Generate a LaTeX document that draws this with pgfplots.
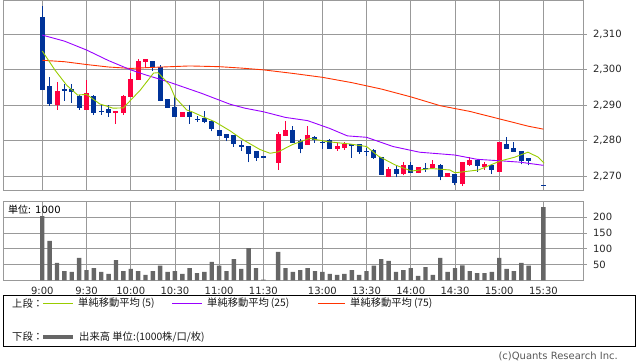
\documentclass[border=0pt]{standalone}
\usepackage{pgfplots}
\pgfplotsset{compat=1.18}
\usepackage{pgfplotstable}
\usepackage{fontspec}
\setmainfont{DejaVu Sans}
\newfontfamily\jp{Noto Sans CJK JP}
\definecolor{upred}{HTML}{FF0040}
\definecolor{dnblue}{HTML}{003399}
\definecolor{maA}{HTML}{99CC00}
\definecolor{maB}{HTML}{9900FF}
\definecolor{maC}{HTML}{FF3300}
\definecolor{gridc}{HTML}{999999}
\definecolor{volc}{HTML}{666666}

% i O H L C
\pgfplotstableread{
i O H L C
2 2289.9 2296.5 2288.7 2294.0
6 2288.7 2297.0 2288.7 2293.4
10 2287.7 2288.4 2284.7 2288.4
11 2287.7 2292.8 2287.2 2292.5
12 2292.3 2299.0 2292.3 2297.3
13 2297.1 2302.9 2297.1 2302.4
14 2302.2 2303.0 2300.3 2303.0
19 2286.7 2288.0 2286.7 2288.0
32 2273.7 2282.4 2271.7 2281.9
33 2281.3 2285.5 2281.3 2283.0
36 2278.8 2284.2 2278.8 2281.6
40 2277.6 2279.4 2277.1 2278.5
41 2277.8 2279.7 2277.4 2279.1
47 2269.7 2272.5 2269.7 2271.9
49 2270.6 2273.9 2270.2 2273.1
51 2270.8 2272.5 2270.8 2272.5
53 2272.3 2274.4 2272.0 2273.5
55 2269.8 2270.9 2269.8 2270.9
57 2267.8 2273.9 2267.3 2273.9
58 2273.2 2275.4 2272.9 2274.4
60 2272.5 2273.9 2271.8 2273.5
62 2271.2 2279.6 2271.2 2279.6
}\upT

\pgfplotstableread{
i O H L C
0 2314.8 2317.9 2294.3 2294.3
1 2295.4 2297.9 2289.8 2290.4
3 2294.5 2295.9 2291.2 2294.2
4 2294.6 2295.9 2290.6 2293.7
5 2292.6 2292.9 2288.7 2289.2
7 2292.5 2292.8 2287.3 2287.8
8 2288.4 2289.9 2287.3 2288.1
9 2288.9 2289.9 2286.7 2287.8
15 2302.4 2302.4 2299.6 2300.6
16 2300.6 2301.2 2291.1 2291.2
17 2291.6 2291.7 2289.2 2289.2
18 2289.4 2292.6 2286.7 2286.7
20 2288.0 2290.1 2284.7 2286.7
21 2286.2 2287.0 2285.3 2285.9
22 2286.3 2288.2 2284.8 2285.2
23 2285.5 2285.7 2282.6 2283.2
24 2283.0 2283.0 2281.4 2281.4
25 2281.8 2281.8 2279.8 2280.7
26 2281.6 2281.6 2278.3 2278.9
27 2278.7 2279.9 2277.1 2278.4
28 2278.5 2278.5 2273.9 2276.3
29 2277.0 2277.0 2274.3 2275.2
30 2275.5 2275.5 2275.1 2275.1
34 2283.0 2284.0 2279.4 2279.4
35 2279.9 2280.5 2276.4 2277.6
37 2280.9 2281.4 2279.4 2280.1
38 2279.6 2280.2 2277.7 2279.3
39 2280.1 2280.4 2277.7 2277.7
42 2279.0 2279.0 2275.2 2278.7
43 2279.0 2279.0 2276.3 2276.8
44 2277.1 2277.9 2275.7 2276.8
45 2277.3 2277.6 2274.9 2275.1
46 2275.4 2275.4 2270.3 2270.3
48 2272.1 2272.7 2269.7 2270.6
50 2273.1 2273.9 2270.8 2270.8
52 2272.3 2273.7 2271.2 2272.0
54 2273.1 2273.5 2268.8 2269.8
56 2270.6 2270.6 2267.4 2267.9
59 2274.5 2274.9 2271.2 2272.9
61 2273.0 2273.0 2270.6 2271.8
63 2279.0 2281.0 2277.7 2277.7
64 2277.9 2279.6 2276.8 2276.8
65 2277.0 2277.0 2273.3 2274.2
66 2275.0 2275.0 2273.0 2274.3
68 2267.6 2267.6 2267.3 2267.3
}\dnT

\pgfplotstableread{
i V
0 203.5
1 124.4
2 54.8
3 29.4
4 26.3
5 70.6
6 32.6
7 38.9
8 26.3
9 20
10 64.2
11 29.4
12 35.8
13 29.4
14 16.8
15 29.4
16 46.2
17 26.3
18 29.4
19 20
20 38.9
21 23.1
22 26.3
23 58
24 46.2
25 29.4
26 67.4
27 35.8
28 102.2
29 38.9
30 2
32 89.6
33 38.9
34 26.3
35 32.6
36 38.9
37 29.4
38 26.3
39 20
40 16.8
41 20
42 32.6
43 16.8
44 29.4
45 46.2
46 67.4
47 61.1
48 26.3
49 32.6
50 38.9
51 13.7
52 42
53 16.8
54 70.6
55 26.3
56 38.9
57 47.3
58 29.4
59 23.1
60 23.1
61 26.3
62 70.6
63 35.8
64 29.4
65 54.8
66 46.2
68 232
}\volT

\pgfplotsset{
  panel/.style={
    scale only axis,
    anchor=south west,
    width=580pt,
    xmin=-5.33, xmax=73.37,
    xtick={0,6,12,18,24,30,38,44,50,56,62,68},
    grid=both,
    major grid style={gridc, line width=0.75pt},
    axis line style={gridc, line width=0.75pt},
    ytick pos=right,
    yticklabel pos=right,
    tick align=outside,
    major tick length=4pt,
    ytick style={gridc, line width=0.75pt},
    xtick style={draw=none},
    /pgf/number format/assume math mode=true,
    ticklabel style={font=\fontsize{10}{12}\selectfont, text=black!85},
    yticklabel style={xshift=2.5pt},
  },
  candle/.style={only marks, mark=*, mark size=0pt, mark options={draw=none, fill=none}, forget plot},
}

\begin{document}
\begin{tikzpicture}
\useasboundingbox (0,0) rectangle (638pt,362pt);

% upper panel
\begin{axis}[panel,
  at={(3pt,171.7pt)}, height=189.8pt,
  ymin=2265.97, ymax=2319.44,
  ytick={2270,2280,2290,2300,2310},
  yticklabel={\pgfmathprintnumber[fixed,1000 sep={,}]{\tick}},
  xticklabels={,,,,,,,,,,,},
]
% wicks
\addplot[candle,
  error bars/.cd, y dir=plus, y explicit, error mark=none,
  error bar style={upred, line width=1pt}]
  table[x=i, y=L, y error expr=\thisrow{H}-\thisrow{L}] {\upT};
\addplot[candle,
  error bars/.cd, y dir=plus, y explicit, error mark=none,
  error bar style={dnblue, line width=1pt}]
  table[x=i, y=L, y error expr=\thisrow{H}-\thisrow{L}] {\dnT};
% bodies
\addplot[candle,
  error bars/.cd, y dir=both, y explicit, error mark=none,
  error bar style={upred, line width=5pt}]
  table[x=i, y expr=(\thisrow{O}+\thisrow{C})/2, y error expr=abs(\thisrow{C}-\thisrow{O})/2] {\upT};
\addplot[candle,
  error bars/.cd, y dir=both, y explicit, error mark=none,
  error bar style={dnblue, line width=5pt}]
  table[x=i, y expr=(\thisrow{O}+\thisrow{C})/2, y error expr=abs(\thisrow{C}-\thisrow{O})/2] {\dnT};
% MA75
\addplot[maC, line width=0.9pt] coordinates {
(0,2302.6) (3,2302.2) (6,2301.4) (9,2300.7) (12,2300.3) (15,2300.6) (20,2301.0)
(24,2300.8) (27,2300.4) (30,2299.9) (34,2298.9) (38,2297.8) (42,2296.3) (46,2294.5)
(50,2292.3) (54,2289.8) (58,2288.2) (62,2286.1) (66,2284.0) (68,2283.2)};
% MA25
\addplot[maB, line width=0.9pt] coordinates {
(0,2309.7) (3,2308.0) (6,2305.5) (9,2302.5) (12,2299.9) (14,2298.5) (17,2296.6)
(21.6,2293.3) (25.5,2290.2) (27.5,2289.1) (30,2288.1) (33,2286.5) (36,2285.6)
(39,2283.4) (41.4,2281.3) (44,2280.9) (47.6,2278.3) (51.2,2276.7) (56,2275.9)
(59,2274.7) (62,2274.3) (64.8,2273.9) (68,2273.0)};
% MA5
\addplot[maA, line width=0.9pt] coordinates {
(0,2305.2) (1.7,2299.9) (3.3,2295.6) (4.8,2292.8) (6,2293.0) (7.8,2290.3) (9.6,2289.1)
(11,2289.2) (13.3,2294.2) (15.1,2299.0) (15.7,2299.1) (17.3,2295.6) (18,2292.2)
(19.6,2288.6) (20.3,2288.1) (21.8,2286.7) (23.4,2285.3) (25.5,2282.7) (26.8,2280.8)
(27.5,2279.9) (29.5,2277.5) (30.9,2276.4) (32,2276.8) (34,2278.9) (36.3,2280.6)
(38.6,2279.7) (41.8,2279.0) (44,2278.3) (45.6,2275.6) (47.9,2273.1) (50.1,2271.4)
(52.8,2272.1) (55.3,2271.7) (56,2270.9) (59.2,2271.7) (62.1,2274.2) (64.1,2275.3)
(65.9,2276.7) (67.3,2275.3) (68.1,2273.6)};
\end{axis}

% lower panel
\begin{axis}[panel,
  at={(3pt,81.7pt)}, height=79.3pt,
  ymin=0, ymax=251,
  ytick={50,100,150,200},
  xticklabels={9:00,9:30,10:00,10:30,11:00,11:30,13:00,13:30,14:00,14:30,15:00,15:30},
  xticklabel style={yshift=1pt},
]
\addplot[ybar, bar width=4.4pt, fill=volc, draw=none] table[x=i, y=V] {\volT};
\end{axis}

\node[anchor=west, inner sep=0pt, font=\fontsize{10}{12}\selectfont] at (8pt,152.7pt) {{\jp 単位:} 1000};

% legend box
\draw[black, line width=0.8pt] (3pt,16pt) rectangle (635pt,67pt);
\begin{scope}[every node/.style={anchor=west, inner sep=0pt, font=\jp\fontsize{10.3}{12}\selectfont, text=black!90}]
\node at (12pt,58.7pt) {上段：};
\draw[maA, line width=1pt] (43pt,58.7pt) -- (73pt,58.7pt);
\node at (78pt,58.7pt) {単純移動平均\hspace{2pt}(5)};
\draw[maB, line width=1pt] (172pt,58.7pt) -- (202pt,58.7pt);
\node at (207pt,58.7pt) {単純移動平均\hspace{2pt}(25)};
\draw[maC, line width=1pt] (318pt,58.7pt) -- (345pt,58.7pt);
\node at (350pt,58.7pt) {単純移動平均\hspace{2pt}(75)};
\node at (12pt,25.3pt) {下段：};
\draw[volc, line width=4pt] (43pt,25.3pt) -- (73pt,25.3pt);
\node at (79pt,25.3pt) {出来高 単位:(1000株/口/枚)};
\end{scope}
\node[anchor=east, inner sep=0pt, font=\fontsize{10}{12}\selectfont, text=black!65] at (618pt,6pt) {(c)Quants Research Inc.};
\end{tikzpicture}
\end{document}
